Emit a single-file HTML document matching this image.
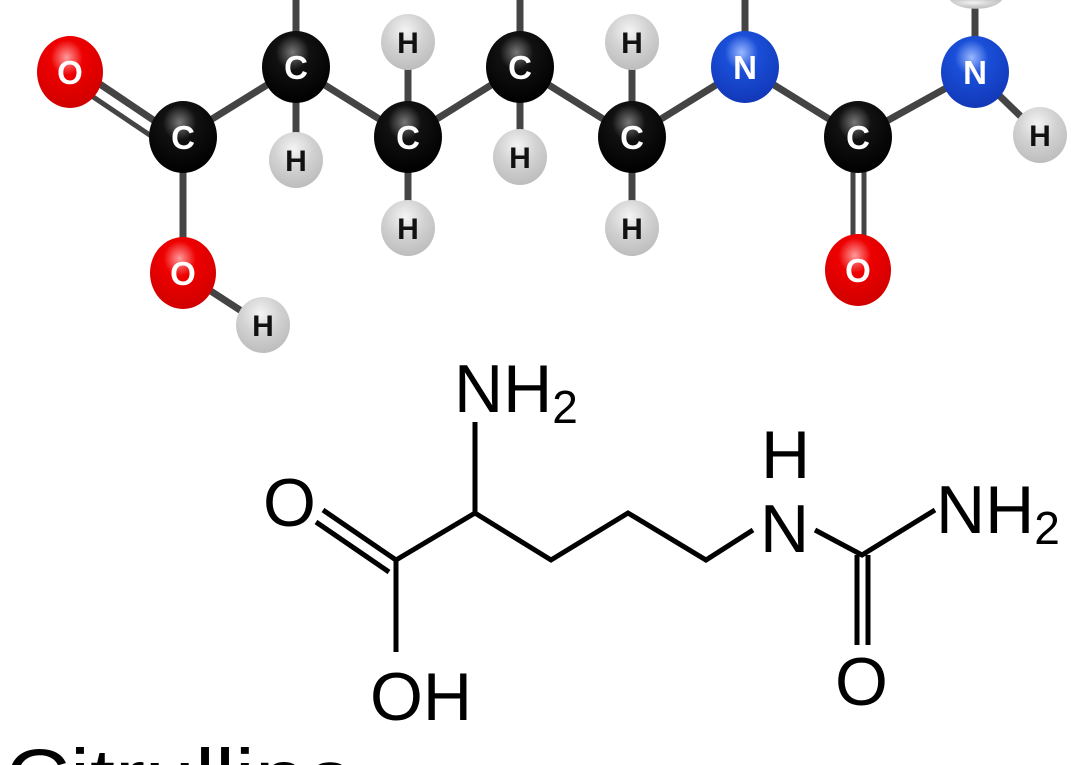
<!DOCTYPE html>
<html><head><meta charset="utf-8"><style>
html,body{margin:0;padding:0;background:#fff;width:1071px;height:765px;overflow:hidden;}
svg{display:block;}
</style></head><body>
<svg width="1071" height="765" viewBox="0 0 1071 765" xmlns="http://www.w3.org/2000/svg">
<defs>
<radialGradient id="gc" cx="0.45" cy="0.3" r="0.7"><stop offset="0" stop-color="#777"/><stop offset="0.35" stop-color="#111"/><stop offset="1" stop-color="#000"/></radialGradient>
<radialGradient id="go" cx="0.45" cy="0.3" r="0.7"><stop offset="0" stop-color="#ff9a9a"/><stop offset="0.35" stop-color="#ee0000"/><stop offset="1" stop-color="#d00000"/></radialGradient>
<radialGradient id="gn" cx="0.45" cy="0.3" r="0.7"><stop offset="0" stop-color="#9ab8ff"/><stop offset="0.35" stop-color="#1a4fd8"/><stop offset="1" stop-color="#1238b8"/></radialGradient>
<radialGradient id="gh" cx="0.45" cy="0.3" r="0.7"><stop offset="0" stop-color="#f4f4f4"/><stop offset="0.5" stop-color="#d2d2d2"/><stop offset="1" stop-color="#bdbdbd"/></radialGradient>
</defs>
<g stroke="#444" stroke-width="7" fill="none">
<line x1="76" y1="68" x2="183" y2="140"/>
<line x1="68" y1="80" x2="175" y2="152" stroke-width="5"/>
<line x1="183" y1="137" x2="296" y2="67"/>
<line x1="296" y1="67" x2="408" y2="137"/>
<line x1="408" y1="137" x2="520" y2="67"/>
<line x1="520" y1="67" x2="632" y2="137"/>
<line x1="632" y1="137" x2="745" y2="67"/>
<line x1="745" y1="67" x2="858" y2="137"/>
<line x1="858" y1="137" x2="975" y2="72"/>
<line x1="975" y1="72" x2="1040" y2="135"/>
<line x1="975" y1="72" x2="975" y2="0"/>
<line x1="745" y1="67" x2="745" y2="0"/>
<line x1="296" y1="67" x2="296" y2="0"/>
<line x1="520" y1="67" x2="520" y2="0"/>
<line x1="296" y1="67" x2="296" y2="160"/>
<line x1="520" y1="67" x2="520" y2="157"/>
<line x1="408" y1="42" x2="408" y2="228"/>
<line x1="632" y1="42" x2="632" y2="228"/>
<line x1="183" y1="137" x2="183" y2="273"/>
<line x1="183" y1="273" x2="263" y2="325"/>
<line x1="853" y1="137" x2="853" y2="270" stroke-width="5"/>
<line x1="864" y1="137" x2="864" y2="270" stroke-width="5"/>
</g>
<g font-family="Liberation Sans, sans-serif" font-weight="bold" text-anchor="middle">
<g fill="url(#gh)">
<ellipse cx="296" cy="160" rx="27" ry="28"/><ellipse cx="408" cy="42" rx="27" ry="28"/><ellipse cx="408" cy="228" rx="27" ry="28"/>
<ellipse cx="520" cy="157" rx="27" ry="28"/><ellipse cx="632" cy="42" rx="27" ry="28"/><ellipse cx="632" cy="228" rx="27" ry="28"/>
<ellipse cx="1040" cy="135" rx="27" ry="28"/><ellipse cx="263" cy="325" rx="27" ry="28"/>
<path d="M950,0 A27,12 0 0 0 1002,0 Z"/>
</g>
<g fill="#111" font-size="30">
<text x="296" y="171">H</text><text x="408" y="53">H</text><text x="408" y="239">H</text>
<text x="520" y="168">H</text><text x="632" y="53">H</text><text x="632" y="239">H</text>
<text x="1040" y="146">H</text><text x="263" y="336">H</text>
</g>
<ellipse cx="70" cy="72" rx="33" ry="36" fill="url(#go)"/>
<ellipse cx="183" cy="273" rx="33" ry="36" fill="url(#go)"/>
<ellipse cx="858" cy="270" rx="33" ry="36" fill="url(#go)"/>
<ellipse cx="183" cy="137" rx="34" ry="36" fill="url(#gc)"/>
<ellipse cx="296" cy="67" rx="34" ry="36" fill="url(#gc)"/>
<ellipse cx="408" cy="137" rx="34" ry="36" fill="url(#gc)"/>
<ellipse cx="520" cy="67" rx="34" ry="36" fill="url(#gc)"/>
<ellipse cx="632" cy="137" rx="34" ry="36" fill="url(#gc)"/>
<ellipse cx="858" cy="137" rx="34" ry="36" fill="url(#gc)"/>
<ellipse cx="745" cy="67" rx="34" ry="36" fill="url(#gn)"/>
<ellipse cx="975" cy="72" rx="34" ry="36" fill="url(#gn)"/>
<g fill="#fff" font-size="33">
<text x="70" y="84">O</text><text x="183" y="285">O</text><text x="858" y="282">O</text>
<text x="183" y="149">C</text><text x="296" y="79">C</text><text x="408" y="149">C</text><text x="520" y="79">C</text><text x="632" y="149">C</text><text x="858" y="149">C</text>
<text x="745" y="79">N</text><text x="975" y="84">N</text>
</g>
</g>
<g stroke="#000" stroke-width="5" fill="none" stroke-linecap="butt">
<polyline points="396,652 396,560 475,513 551,560 628,513 706,560 753,530"/>
<line x1="475" y1="513" x2="475" y2="422"/>
<line x1="396" y1="560" x2="323" y2="510"/>
<line x1="389" y1="572" x2="316" y2="522"/>
<polyline points="815,530 862,555 935,510"/>
<line x1="857" y1="555" x2="857" y2="645"/>
<line x1="868" y1="555" x2="868" y2="645"/>
</g>
<g font-family="Liberation Sans, sans-serif" font-size="68" fill="#000">
<text x="454" y="412">NH<tspan font-size="46" dy="11">2</tspan></text>
<text x="263" y="526">O</text>
<text x="370" y="720">OH</text>
<text x="761" y="478">H</text>
<text x="760" y="552">N</text>
<text x="936" y="533">NH<tspan font-size="46" dy="11">2</tspan></text>
<text x="835" y="705">O</text>
</g>
<text x="5" y="765" dy="41" font-family="Liberation Sans, sans-serif" font-size="82" textLength="350" lengthAdjust="spacingAndGlyphs">Citrulline</text>
</svg>
</body></html>
